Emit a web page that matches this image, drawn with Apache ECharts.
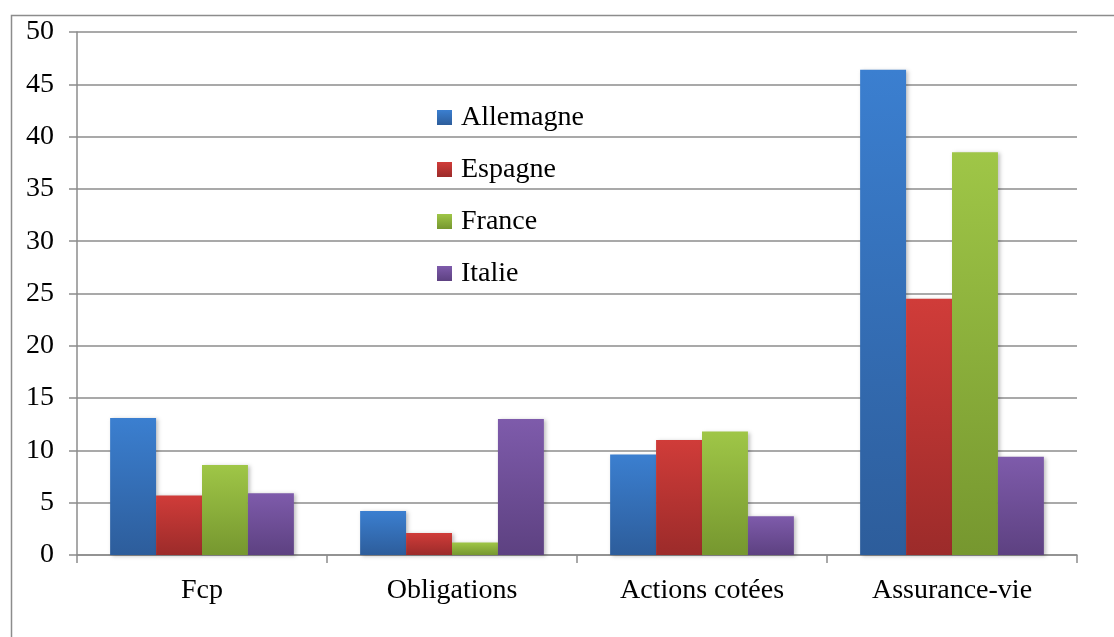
<!DOCTYPE html>
<html>
<head>
<meta charset="utf-8">
<script src="https://cdn.jsdelivr.net/npm/echarts@6/dist/echarts.min.js"></script>
<style>html,body{margin:0;padding:0;background:#fff}#c{width:1114px;height:637px}</style>
</head>
<body>
<div id="c"></div>
<script>
const categories = ['Fcp', 'Obligations', 'Actions cotées', 'Assurance-vie'];
const seriesNames = ['Allemagne', 'Espagne', 'France', 'Italie'];
const allemagne = [13.1, 4.2, 9.6, 46.4];
const espagne = [5.7, 2.1, 11.0, 24.5];
const france = [8.6, 1.2, 11.8, 38.5];
const italie = [5.9, 13.0, 3.7, 9.4];
const yTicks = { min: 0, max: 50, interval: 5 };

const values = [allemagne, espagne, france, italie];
const colorsTop = ['#3b7fd0', '#d03c39', '#9fc647', '#7e5bab'];
const colorsBottom = ['#2d5d9b', '#9c2b2a', '#76972f', '#5d4181'];

const chart = echarts.init(document.getElementById('c'));
const font = '"Liberation Serif", "Times New Roman", serif';
chart.setOption({
  animation: false,
  backgroundColor: '#fff',
  graphic: [{
    type: 'rect', left: 9, top: 13, silent: true,
    shape: { width: 1200, height: 700 },
    style: { fill: 'none', stroke: '#8c8c8c', lineWidth: 1.5 }
  }],
  grid: { left: 77, right: 37, top: 32, bottom: 82 },
  legend: {
    orient: 'vertical', left: 437, top: 103.5, padding: 0,
    itemWidth: 15, itemHeight: 15, itemGap: 24,
    icon: 'rect',
    data: seriesNames,
    textStyle: { fontFamily: font, fontSize: 28, color: '#000', lineHeight: 28, padding: [0, 0, 0, 4] }
  },
  xAxis: {
    type: 'category', data: categories,
    axisLine: { lineStyle: { color: '#8c8c8c', width: 1.5 } },
    axisTick: { show: true, length: 8, lineStyle: { color: '#8c8c8c', width: 1.5 } },
    axisLabel: { fontFamily: font, fontSize: 28, color: '#000', margin: 22 }
  },
  yAxis: {
    type: 'value', min: yTicks.min, max: yTicks.max, interval: yTicks.interval,
    axisLine: { show: true, lineStyle: { color: '#8c8c8c', width: 1.5 } },
    axisTick: { show: true, length: 8, lineStyle: { color: '#8c8c8c', width: 1.5 } },
    splitLine: { lineStyle: { color: '#8c8c8c', width: 1.5 } },
    axisLabel: { fontFamily: font, fontSize: 28, color: '#000', margin: 23 }
  },
  series: seriesNames.map((name, i) => ({
    name, type: 'bar', data: values[i],
    barGap: '0%', barCategoryGap: '26.5%',
    itemStyle: {
      color: new echarts.graphic.LinearGradient(0, 0, 0, 1, [
        { offset: 0, color: colorsTop[i] },
        { offset: 1, color: colorsBottom[i] }
      ]),
      shadowBlur: 4, shadowColor: 'rgba(0,0,0,0.25)', shadowOffsetX: 2, shadowOffsetY: 1
    }
  }))
});
</script>
</body>
</html>
